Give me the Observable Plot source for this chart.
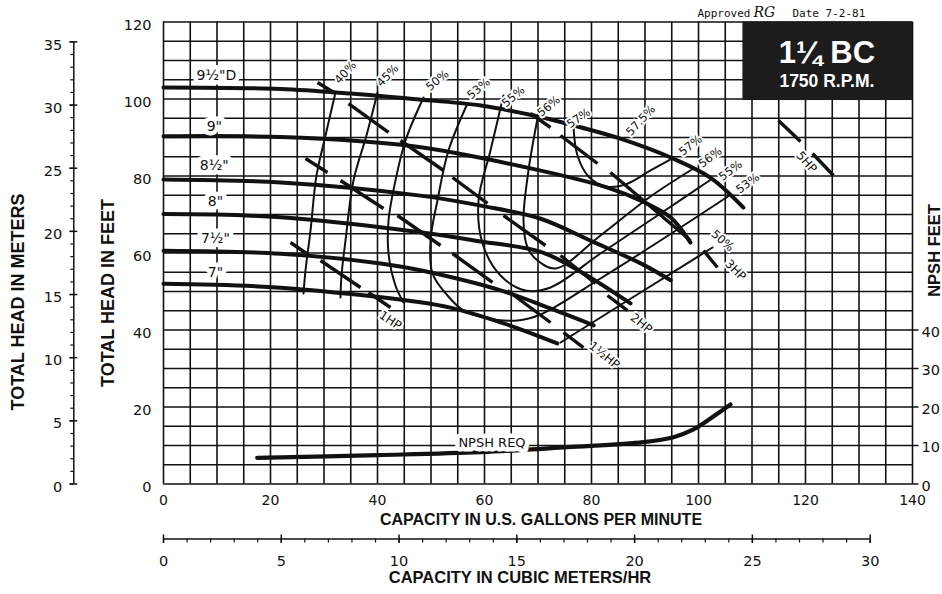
<!DOCTYPE html>
<html><head><meta charset="utf-8">
<script src="https://cdn.jsdelivr.net/npm/d3@7"></script>
<script src="https://cdn.jsdelivr.net/npm/@observablehq/plot@0.6"></script>
<style>body{margin:0;background:#fff} svg{display:block}</style>
</head><body><div id="chart"></div>
<script>
// ---- tick labels / axes values ----
const gpmTicks = [0,20,40,60,80,100,120,140];
const feetTicks = [0,20,40,60,80,100,120];
const meterTicks = [0,5,10,15,20,25,30,35];
const meterMinor = d3.range(0,36,1);
const m3Ticks = [0,5,10,15,20,25,30];
const m3Minor = d3.range(0,31,1);
const npshTicks = [0,10,20,30,40];
const gridX = d3.range(0,141,5);
const gridY = d3.range(0,121,5);
const FT_PER_M = 3.28084, GPM_PER_M3H = 4.40287;

// ---- head curves [GPM, feet] ----
const head9_5 = [[0,103.0],[21.9,102.6],[35.0,101.4],[46.7,100.0],[59.3,98.3],[69.2,95.7],[78.1,92.6],[85.4,89.7],[94.8,84.8],[102.2,79.6],[108.4,71.8]];
const head9_0 = [[0,90.3],[21.9,90.1],[46.7,87.7],[70.5,81.4],[83.0,77.0],[89.2,73.6],[94.8,69.2],[98.5,62.7]];
const head8_5 = [[0,79.1],[21.9,78.3],[48.0,74.9],[59.3,72.3],[70.5,68.9],[79.8,63.2],[89.2,57.3],[94.8,52.9]];
const head8_0 = [[0,70.1],[21.9,69.3],[48.0,65.4],[59.3,63.0],[70.5,60.3],[78.5,54.7],[87.3,46.9]];
const head7_5 = [[0,60.6],[21.9,59.8],[40.6,57.3],[48.0,55.5],[63.0,50.3],[72.3,45.6],[80.4,41.2]];
const head7_0 = [[0,52.0],[21.9,51.0],[48.0,47.2],[53.6,45.8],[63.6,41.7],[73.6,36.5]];

// ---- efficiency curves [GPM, feet] ----
const eff40 = [[32.15,101.69],[30.28,90.52],[28.60,80.13],[27.48,65.84],[26.54,55.45],[26.17,49.48]];
const eff45 = [[40.0,101.69],[37.94,90.52],[35.51,78.83],[34.02,63.25],[33.27,54.16],[33.08,48.44]];
const eff50 = [[48.60,100.39],[45.23,89.22],[43.36,78.83],[42.06,68.44],[42.06,59.87],[43.36,51.56],[44.86,47.14]];
const eff50r = [[74.21,36.75],[89.16,49.74],[102.62,61.43]];
const eff53 = [[56.82,98.83],[53.27,86.62],[51.21,73.64],[49.91,63.25],[50.28,54.68],[53.08,48.96],[56.07,45.06],[59.81,43.25],[66.17,42.47],[70.47,44.03],[81.68,53.38],[92.90,63.25],[105.79,74.94]];
const eff55 = [[63.55,100.91],[61.12,86.62],[58.88,73.64],[59.63,62.47],[62.99,54.16],[67.66,50.26],[72.34,51.04],[81.68,59.87],[92.90,70.26],[102.62,79.35]];
const eff56 = [[69.91,94.94],[68.22,81.43],[67.29,68.44],[68.04,61.43],[69.91,58.05],[73.27,55.97],[81.68,64.55],[91.03,74.68],[99.07,81.95]];
const eff57 = [[76.64,92.60],[77.38,85.32],[79.44,79.87],[82.62,77.27],[86.36,77.79],[91.03,81.43],[95.14,84.55]];

// ---- horsepower lines: dashes [x1,y1,x2,y2] ----
const hp1 = [[23.74,62.73,26.73,59.87],[29.35,58.05,36.82,51.04],[38.32,49.74,42.43,45.84]];
const hp1_5 = [[26.54,84.55,30.65,80.91],[33.08,78.83,41.12,71.56],[43.74,69.74,51.78,61.95],[54.02,59.87,61.50,52.34],[64.30,50.26,72.34,41.95],[74.77,39.35,78.50,35.45]];
const hp2 = [[28.79,104.29,32.15,101.43],[34.58,98.83,42.06,91.30],[44.30,89.22,52.34,81.43],[54.02,79.61,60.56,72.86],[63.55,69.74,71.40,61.95],[74.21,59.35,80.75,52.08],[82.99,48.96,86.73,45.06]];
const hp3 = [[68.60,96.23,72.34,92.60],[74.21,90.52,81.12,83.25],[83.55,80.91,98.50,63.25],[100.93,60.65,103.55,56.23]];
const hp5 = [[114.95,94.42,119.07,88.96],[121.31,85.84,125.23,80.13]];

// ---- NPSH required [GPM, feet] ----
const npshReq = [[17.51,6.81],[40.0,7.5],[59.25,8.26],[75.46,9.56],[89.72,10.86],[95.33,12.16],[99.07,14.16],[101.68,16.49],[105.98,20.65]];

// ---- labels ----
const diaLabels = [
  {t:'9½"D', x:9.9, y:106.1}, {t:'9"', x:9.5, y:92.9}, {t:'8½"', x:9.5, y:82.7},
  {t:'8"', x:9.7, y:73.4}, {t:'7½"', x:9.7, y:63.8}, {t:'7"', x:9.7, y:54.9}];
const effLabels = [
  {t:"40%",x:34.0,y:106.9,r:-48},{t:"45%",x:41.9,y:106.1,r:-45},{t:"50%",x:51.2,y:104.8,r:-40},
  {t:"53%",x:58.9,y:102.7,r:-40},{t:"55%",x:65.4,y:100.6,r:-40},{t:"56%",x:72.0,y:98.1,r:-40},
  {t:"57%",x:77.6,y:95.0,r:-35},{t:"57.5%",x:89.2,y:94.4,r:-47},
  {t:"57%",x:98.5,y:87.9,r:-38},{t:"56%",x:102.2,y:84.8,r:-37},{t:"55%",x:106.0,y:81.4,r:-37},
  {t:"53%",x:109.2,y:78.1,r:-37},{t:"50%",x:104.5,y:63.2,r:40}];
const hpLabels = [
  {t:"1HP",x:42.4,y:42.5,r:34},{t:"1½HP",x:82.4,y:33.4,r:39},{t:"2HP",x:89.3,y:41.7,r:39},
  {t:"3HP",x:106.9,y:55.5,r:45},{t:"5HP",x:120.2,y:83.6,r:49}];
const npshLabel = [{t:"NPSH REQ", x:61.4, y:10.6}];
const titleBox = [{x1:108.3, x2:140, y1:99.6, y2:120}];

// ---- layout ----
const W = 942, H = 594, ML = 163, MR = 30, MT = 21.5, MB = 110.5;
const xAt = px => (px - ML) * 140 / (W - ML - MR);
const yAt = py => (H - MB - py) * 120 / (H - MT - MB);

const lineRows = groups => groups.flatMap(([name, pts]) => pts.map(([x, y]) => ({name, x, y})));
const headRows = lineRows([["9.5",head9_5],["9",head9_0],["8.5",head8_5],["8",head8_0],["7.5",head7_5],["7",head7_0]]);
const effRows = lineRows([["40",eff40],["45",eff45],["50",eff50],["50r",eff50r],["53",eff53],["55",eff55],["56",eff56],["57",eff57]]);
const hpSegs = [hp1,hp1_5,hp2,hp3,hp5].flat().map(([x1,y1,x2,y2]) => ({x1,y1,x2,y2}));
const npshRows = npshReq.map(([x,y]) => ({x,y}));

const mAxisX = xAt(73.3), m3AxisY = yAt(538.5);
const FONT = "DejaVu Sans", BOLD = "Liberation Sans";
const ink = "#111";

const chart = Plot.plot({
  width: W, height: H, marginLeft: ML, marginRight: MR, marginTop: MT, marginBottom: MB,
  x: {domain: [0, 140], axis: null},
  y: {domain: [0, 120], axis: null},
  style: {fontFamily: FONT, fontSize: "14px", background: "#fff", color: ink},
  marks: [
    Plot.ruleX(gridX, {y1: 0, y2: 120, stroke: ink, strokeWidth: 1.6}),
    Plot.ruleY(gridY, {x1: 0, x2: 140, stroke: ink, strokeWidth: 1.6}),
    Plot.rect(titleBox, {x1: "x1", x2: "x2", y1: "y1", y2: "y2", fill: "#1c1c1c"}),
    Plot.text(["1¼ BC"], {x: 124.0, y: yAt(53), fill: "#fff", fontFamily: BOLD, fontWeight: "bold", fontSize: 31}),
    Plot.text(["1750 R.P.M."], {x: 124.0, y: yAt(81), fill: "#fff", fontFamily: BOLD, fontWeight: "bold", fontSize: 17.5}),
    Plot.line(effRows, {x: "x", y: "y", z: "name", curve: "catmull-rom", stroke: ink, strokeWidth: 2}),
    Plot.line(headRows, {x: "x", y: "y", z: "name", curve: "catmull-rom", stroke: ink, strokeWidth: 4}),
    Plot.link(hpSegs, {x1: "x1", y1: "y1", x2: "x2", y2: "y2", stroke: ink, strokeWidth: 3.4}),
    Plot.line(npshRows, {x: "x", y: "y", curve: "catmull-rom", stroke: ink, strokeWidth: 4.2}),
    Plot.text(diaLabels, {x: "x", y: "y", text: "t", fontSize: 14, stroke: "#fff", strokeWidth: 9, paintOrder: "stroke", fill: ink}),
    Plot.text(effLabels, {x: "x", y: "y", text: "t", rotate: "r", fontSize: 11.5, stroke: "#fff", strokeWidth: 4, paintOrder: "stroke", fill: ink}),
    Plot.text(hpLabels, {x: "x", y: "y", text: "t", rotate: "r", fontSize: 12, stroke: "#fff", strokeWidth: 4, paintOrder: "stroke", fill: ink}),
    Plot.text(npshLabel, {x: "x", y: "y", text: "t", fontSize: 13, letterSpacing: 0.8, stroke: "#fff", strokeWidth: 9, paintOrder: "stroke", fill: ink}),
    // feet axis labels
    Plot.text(feetTicks, {x: 0, y: d => d, text: d => String(d), dx: -12, dy: 3, textAnchor: "end", fontSize: 14.5, letterSpacing: 0.8}),
    // gpm axis labels
    Plot.text(gpmTicks, {x: d => d, y: 0, text: d => String(d), dy: 16.5, fontSize: 14, letterSpacing: 0.8}),
    // meters axis
    Plot.ruleX([mAxisX], {y1: 0, y2: 35 * FT_PER_M, stroke: ink, strokeWidth: 1.5}),
    Plot.ruleY(meterTicks, {y: d => d * FT_PER_M, x1: xAt(69.3), x2: xAt(77.3), stroke: ink, strokeWidth: 1.5}),
    Plot.ruleY(meterMinor, {y: d => d * FT_PER_M, x1: xAt(70.3), x2: mAxisX, stroke: ink, strokeWidth: 1.2}),
    Plot.text(meterTicks, {x: mAxisX, y: d => d * FT_PER_M, text: d => String(d), dx: -11.5, dy: 3, textAnchor: "end", fontSize: 14.5, letterSpacing: 0.8}),
    // cubic meters axis
    Plot.ruleY([m3AxisY], {x1: 0, x2: 30 * GPM_PER_M3H, stroke: ink, strokeWidth: 1.5}),
    Plot.ruleX(m3Ticks, {x: d => d * GPM_PER_M3H, y1: yAt(534.5), y2: yAt(543), stroke: ink, strokeWidth: 1.5}),
    Plot.ruleX(m3Minor, {x: d => d * GPM_PER_M3H, y1: m3AxisY, y2: yAt(542.5), stroke: ink, strokeWidth: 1.2}),
    Plot.text(m3Ticks, {x: d => d * GPM_PER_M3H, y: m3AxisY, text: d => String(d), dy: 22, fontSize: 14.5, letterSpacing: 0.8}),
    // NPSH axis (right)
    Plot.ruleY(npshTicks, {y: d => d, x1: 140, x2: xAt(918.5), stroke: ink, strokeWidth: 1.5}),
    Plot.text(npshTicks, {x: 140, y: d => d, text: d => String(d), dx: 9, dy: 2, textAnchor: "start", fontSize: 14.5, letterSpacing: 0.8}),
    // titles
    Plot.text(["CAPACITY IN U.S. GALLONS PER MINUTE"], {frameAnchor: "bottom", textAnchor: "middle", dx: 3, dy: 40.5, fontFamily: BOLD, fontWeight: "bold", fontSize: 16}),
    Plot.text(["CAPACITY IN CUBIC METERS/HR"], {frameAnchor: "bottom", textAnchor: "middle", dx: -18, dy: 98.5, fontFamily: BOLD, fontWeight: "bold", fontSize: 16.5}),
    Plot.text(["TOTAL HEAD IN METERS"], {frameAnchor: "left", textAnchor: "middle", rotate: -90, dx: -145, dy: 49, fontFamily: BOLD, fontWeight: "bold", fontSize: 18, letterSpacing: 3}),
    Plot.text(["TOTAL HEAD IN FEET"], {frameAnchor: "left", textAnchor: "middle", rotate: -90, dx: -55, dy: 40, fontFamily: BOLD, fontWeight: "bold", fontSize: 18, letterSpacing: 3}),
    Plot.text(["NPSH FEET"], {frameAnchor: "right", textAnchor: "middle", rotate: -90, dx: 22, dy: -2.5, fontFamily: BOLD, fontWeight: "bold", fontSize: 16.5}),
    // approval stamp
    Plot.text(["Approved"], {x: xAt(697), y: yAt(13), textAnchor: "start", fontFamily: "DejaVu Sans Mono", fontSize: 11}),
    Plot.text(["RG"], {x: xAt(753), y: yAt(12), textAnchor: "start", fontFamily: "DejaVu Serif", fontStyle: "italic", fontSize: 14}),
    Plot.text(["Date 7-2-81"], {x: xAt(792), y: yAt(13), textAnchor: "start", fontFamily: "DejaVu Sans Mono", fontSize: 11, letterSpacing: 1.6})
  ]
});
document.getElementById("chart").appendChild(chart);
</script>
</body></html>
